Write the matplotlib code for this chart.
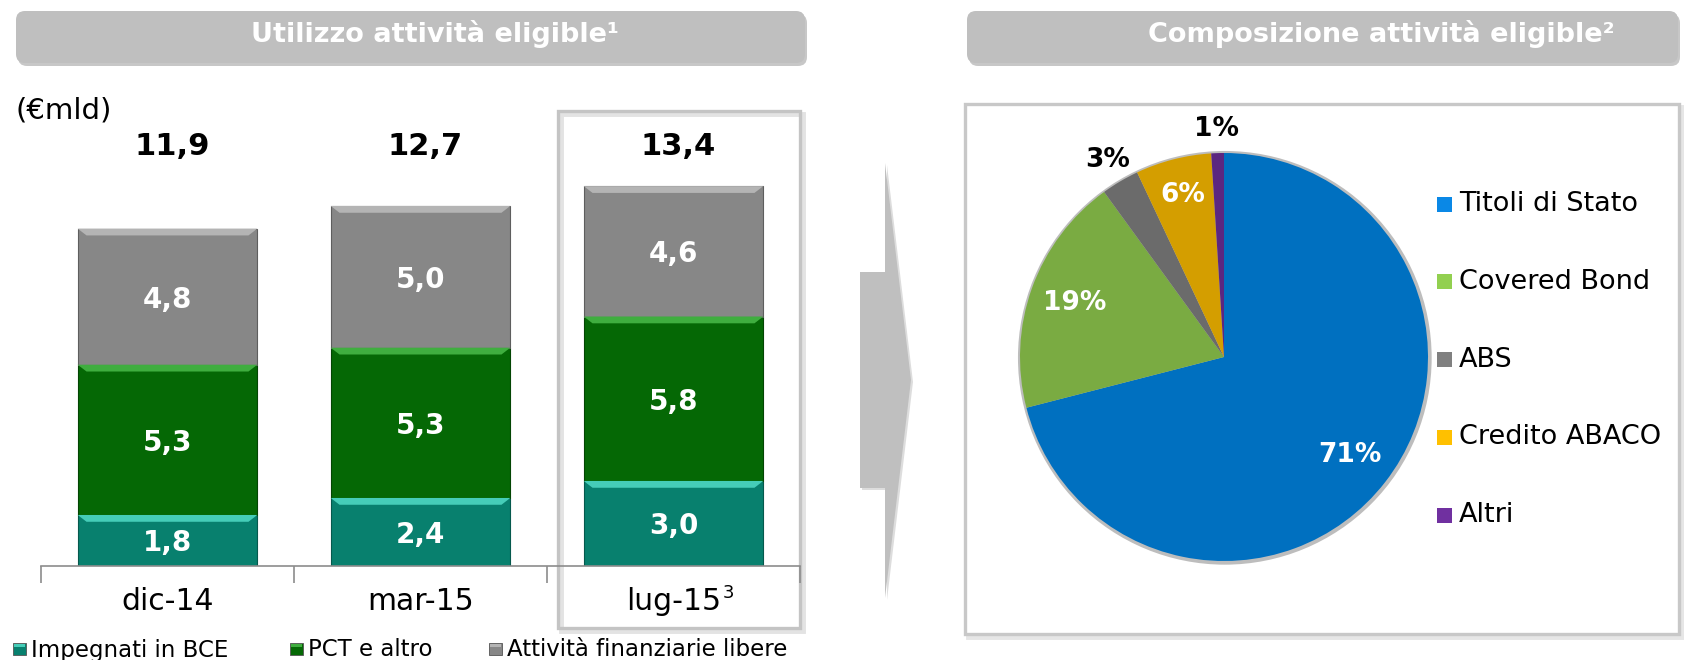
import matplotlib
matplotlib.use('Agg')
import matplotlib.pyplot as plt
from matplotlib.patches import FancyBboxPatch, Rectangle, Polygon, Circle
import numpy as np

W, H, DPI = 1684, 660, 100

# ---------------- data ----------------
categories = ['dic-14', 'mar-15', 'lug-15']
impegnati_bce = [1.8, 2.4, 3.0]
pct_altro = [5.3, 5.3, 5.8]
attivita_libere = [4.8, 5.0, 4.6]
totals = [11.9, 12.7, 13.4]
bar_series = ['Impegnati in BCE', 'PCT e altro', 'Attività finanziarie libere']

pie_labels = ['Titoli di Stato', 'Covered Bond', 'ABS', 'Credito ABACO', 'Altri']
pie_values = [71, 19, 3, 6, 1]

# ---------------- style ----------------
plt.rcParams['font.family'] = ['DejaVu Sans']
bar_colors = ['#08806E', '#056805', '#878787']
bevel_colors = ['#45CDB8', '#3FAE3F', '#B4B4B4']
edge_colors = ['#05594D', '#034503', '#5E5E5E']
pie_colors = ['#0070C0', '#7AAB42', '#6B6B6B', '#D49E00', '#5B2780']
pie_leg_colors = ['#0A88E6', '#92D050', '#808080', '#FFC000', '#7030A0']
HDR = '#BFBFBF'

fig = plt.figure(figsize=(W / DPI, H / DPI), dpi=DPI)
fig.patch.set_facecolor('white')


def px_axes(x0, y0, x1, y1):
    return fig.add_axes([x0 / W, 1 - y1 / H, (x1 - x0) / W, (y1 - y0) / H])


# overlay for decorations (pixel coordinates, y downwards)
ov = fig.add_axes([0, 0, 1, 1])
ov.set_xlim(0, W)
ov.set_ylim(H, 0)
ov.axis('off')

# header boxes
for (x0, x1, tx, title) in [(16, 805, 435, 'Utilizzo attività eligible¹'),
                            (967, 1678, 1381, 'Composizione attività eligible²')]:
    sh = FancyBboxPatch((x0 + 2, 14), x1 - x0, 52,
                        boxstyle='round,pad=0,rounding_size=9',
                        fc='#9A9A9A', ec='none', alpha=0.55)
    ov.add_patch(sh)
    bx = FancyBboxPatch((x0, 11), x1 - x0, 52,
                        boxstyle='round,pad=0,rounding_size=9',
                        fc=HDR, ec='none')
    ov.add_patch(bx)
    ov.text(tx, 34, title, ha='center', va='center', color='white',
            fontsize=19.5, fontweight='bold')

ov.text(16, 110, '(€mld)', ha='left', va='center', fontsize=21)

# highlight box around last bar
ov.add_patch(Rectangle((561, 114), 242, 517, fc='none', ec='#E3E3E3', lw=3.5))
ov.add_patch(Rectangle((558, 111), 242, 517, fc='none', ec='#C4C4C4', lw=2.4))

# arrow
arrow = [(860, 272), (885, 272), (885, 163), (911, 380), (885, 598),
         (885, 488), (860, 488)]
ov.add_patch(Polygon([(x + 2, y + 2) for x, y in arrow], closed=True,
                     fc='#DDDDDD', ec='none'))
ov.add_patch(Polygon(arrow, closed=True, fc=HDR, ec='none'))

# pie panel box
ov.add_patch(Rectangle((968, 107), 714, 530, fc='none', ec='#E6E6E6', lw=3.5))
ov.add_patch(Rectangle((965, 104), 714, 530, fc='white', ec='#C8C8C8', lw=2.4))

# ---------------- bar chart ----------------
PXU = 28.35
YMAX = 16
ax = px_axes(41, 566 - YMAX * PXU, 800, 566)
ax.set_facecolor('none')
x = np.arange(len(categories))
bw = 0.71
bev_h = 0.24
bev_dx = 0.035
bottoms = np.zeros(len(categories))
for s, vals in enumerate([impegnati_bce, pct_altro, attivita_libere]):
    vals = np.array(vals)
    ax.bar(x, vals, bw, bottom=bottoms, color=bar_colors[s],
           edgecolor=edge_colors[s], linewidth=0.8, zorder=2)
    for i in range(len(x)):
        top = bottoms[i] + vals[i]
        xl, xr = x[i] - bw / 2, x[i] + bw / 2
        ax.add_patch(Polygon([(xl, top), (xr, top), (xr - bev_dx, top - bev_h),
                              (xl + bev_dx, top - bev_h)], closed=True,
                             fc=bevel_colors[s], ec='none', zorder=3))
        ax.text(x[i], bottoms[i] + vals[i] / 2 - 0.1,
                f'{vals[i]:.1f}'.replace('.', ','), ha='center', va='center',
                color='white', fontsize=20, fontweight='bold', zorder=4)
    bottoms = bottoms + vals

for i, t in enumerate(totals):
    ax.text(x[i] + 0.02, 14.8, f'{t:.1f}'.replace('.', ','), ha='center',
            va='center', fontsize=22, fontweight='bold')

ax.set_xlim(-0.5, 2.5)
ax.set_ylim(0, YMAX)
ax.set_yticks([])
ax.set_xticks(x)
ax.set_xticklabels(categories, fontsize=21.5)
ax.set_xticks([-0.5, 0.5, 1.5, 2.5], minor=True)
ax.tick_params(axis='x', which='major', length=0, pad=15)
ax.tick_params(axis='x', which='minor', length=12, width=1.2,
               color='#8C8C8C', direction='out')
for sp in ['left', 'right', 'top']:
    ax.spines[sp].set_visible(False)
ax.spines['bottom'].set_color('#8C8C8C')
ax.spines['bottom'].set_linewidth(1.2)

ov.text(723, 593, '3', ha='left', va='center', fontsize=13)

# bottom legend
for xs, name, c, bc in zip([13, 290, 489], bar_series, bar_colors, bevel_colors):
    ov.add_patch(Rectangle((xs, 643), 13, 12, fc=c, ec='#555555', lw=0.6))
    ov.add_patch(Rectangle((xs + 1, 644), 11, 3, fc=bc, ec='none'))
    ov.text(xs + 18, 650, name, ha='left', va='center', fontsize=16.5)

# ---------------- pie chart ----------------
CX, CY, R = 1224, 357, 204
PAD = 250
pax = px_axes(CX - PAD, CY - PAD, CX + PAD, CY + PAD)
pax.add_patch(Circle((0.004, -0.004), 1.014, fc='#BDBDBD', ec='none', zorder=0))
pax.pie(pie_values, colors=pie_colors, startangle=90, counterclock=False,
        radius=1, wedgeprops=dict(linewidth=0))
lim = PAD / R
pax.set_xlim(-lim, lim)
pax.set_ylim(-lim, lim)
pax.set_aspect('auto')

tot = sum(pie_values)
cum = 0
for v in pie_values:
    mid = np.deg2rad(90 - (cum + v / 2) / tot * 360)
    cum += v
    if v >= 5:
        r, col = (0.82 if v < 10 else 0.78), 'white'
    else:
        r, col = 1.12, 'black'
    pax.text(r * np.cos(mid), r * np.sin(mid), f'{v}%', ha='center',
             va='center', color=col, fontsize=19, fontweight='bold')

# pie legend
for k, (name, c) in enumerate(zip(pie_labels, pie_leg_colors)):
    yc = 204 + k * 77.8
    ov.add_patch(Rectangle((1437, yc - 7.5), 15, 15, fc=c, ec='none'))
    ov.text(1459, yc, name, ha='left', va='center', fontsize=19.5)

fig.savefig('out.png', dpi=DPI)
